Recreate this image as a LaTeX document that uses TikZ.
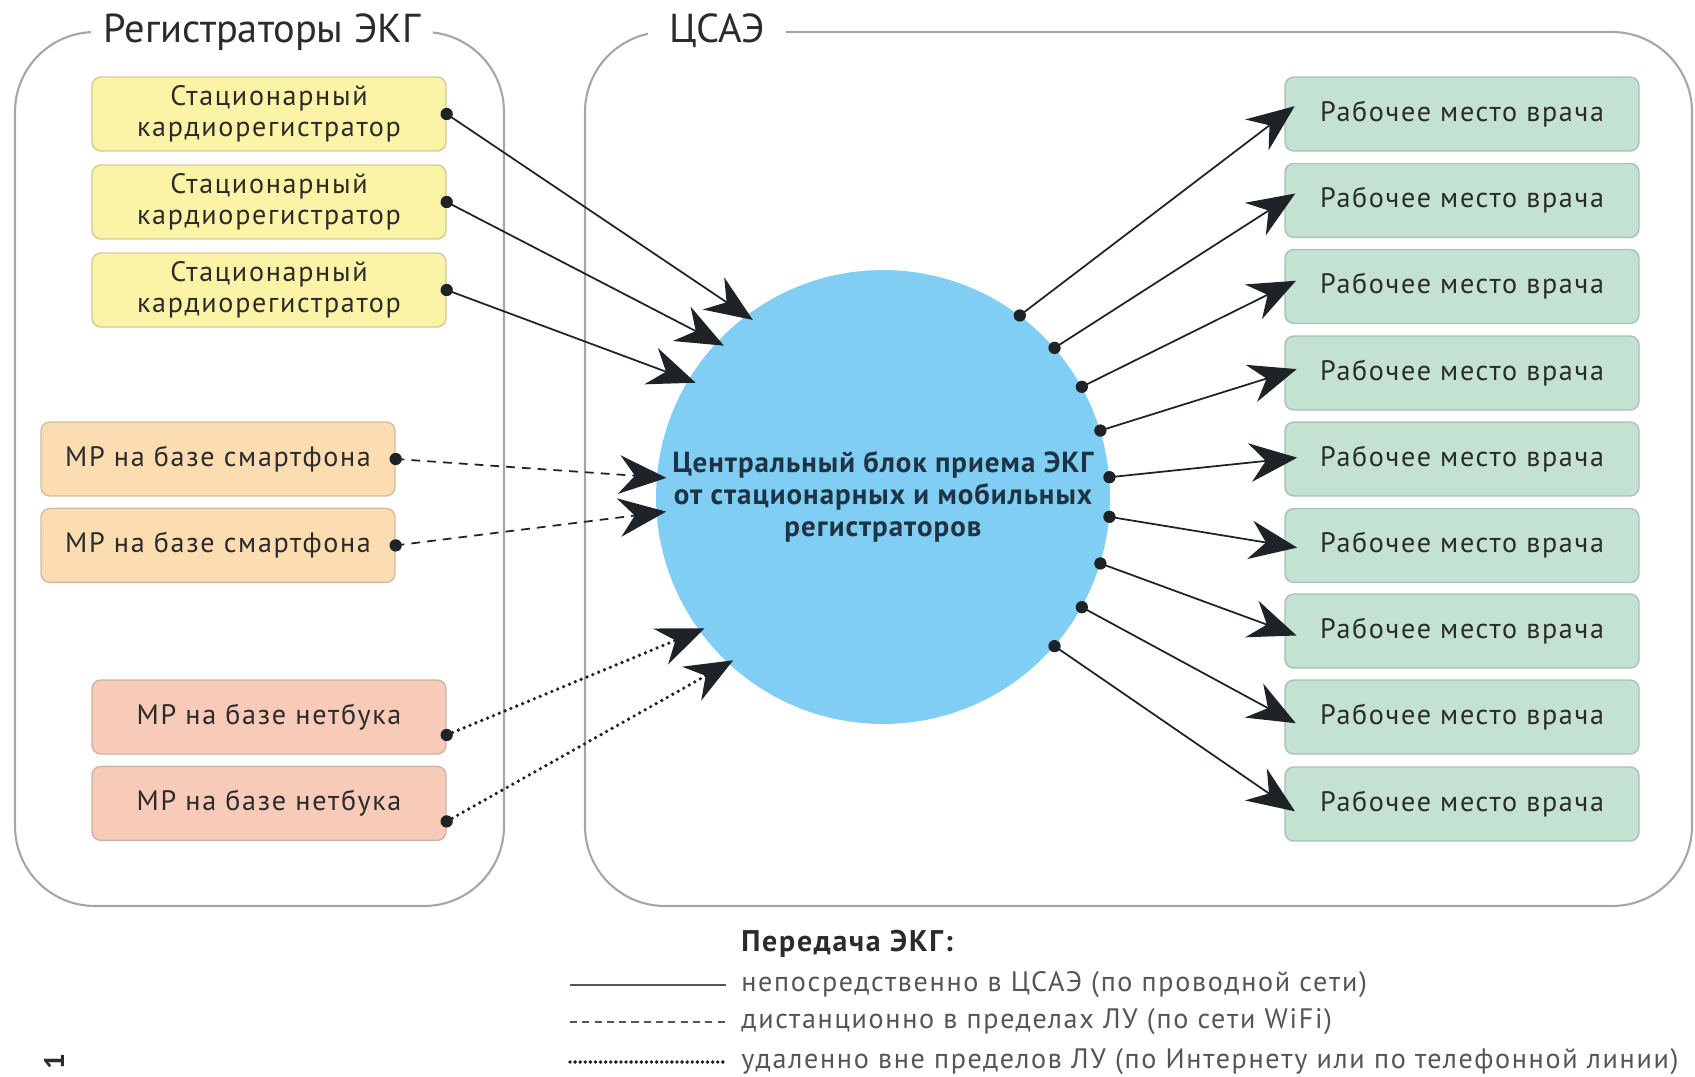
\documentclass[tikz,border=0pt]{standalone}
\usepackage{fontspec}
\setmainfont{PT Sans}
\newfontfamily\boxfont[LetterSpace=6]{PT Sans}
\newfontfamily\hubfont[LetterSpace=3.5]{PT Sans}
\usepackage{tikz}
\usetikzlibrary{positioning,calc,arrows.meta}

\definecolor{framegray}{HTML}{A6A6A6}
\definecolor{textdark}{HTML}{2B2B2B}
\definecolor{legendgray}{HTML}{555555}
\definecolor{arrowdark}{HTML}{1D2327}
\definecolor{hubblue}{HTML}{80CEF3}
\definecolor{hubtext}{HTML}{1E3444}
\definecolor{statyellow}{HTML}{FBF4A7}
\definecolor{phoneorange}{HTML}{FCDDB1}
\definecolor{netpink}{HTML}{F8CBB9}
\definecolor{docgreen}{HTML}{C3E2D1}

\begin{document}
\begin{tikzpicture}[x=0.02cm, y=-0.02cm,
    frame/.style={draw=framegray, line width=1.2pt, rounded corners=1.6cm},
    frametitle/.style={fill=white, inner xsep=7pt, text=textdark, font=\fontsize{23}{26}\selectfont},
    devbox/.style={draw=#1!65!gray, fill=#1, rounded corners=5pt, line width=0.8pt,
        minimum width=7.08cm, minimum height=1.48cm, align=center, text=textdark,
        font=\boxfont\fontsize{16}{17.5}\selectfont},
    dotend/.style={circle, fill=arrowdark, inner sep=0pt, minimum size=7pt},
    link/.style={draw=arrowdark, line width=1pt, -{Stealth[length=27pt, width=22pt, inset=9pt]}},
    wired/.style={link},
    wifi/.style={link, dash pattern=on 5pt off 4pt},
    remote/.style={link, line width=2.1pt, dash pattern=on 0pt off 3.6pt, line cap=round},
    legtext/.style={anchor=west, text=legendgray, inner xsep=0pt, font=\boxfont\fontsize{16}{18}\selectfont}
]
    \useasboundingbox (0,0) rectangle (1695,1076);

    % Frames
    \draw[frame] (15,32) rectangle (504,906);
    \draw[frame] (585,32) rectangle (1692,906);
    \node[frametitle] (regtitle) at (262,32) {Регистраторы ЭКГ};
    \node[frametitle, inner xsep=12pt] (csaetitle) at (717,31) {ЦСАЭ};

    % Registrators
    \node[devbox=statyellow] (st1) at (269,114) {Стационарный\\кардиорегистратор};
    \node[devbox=statyellow] (st2) at (269,202) {Стационарный\\кардиорегистратор};
    \node[devbox=statyellow] (st3) at (269,290) {Стационарный\\кардиорегистратор};
    \node[devbox=phoneorange] (sm1) at (218,459) {МР на базе смартфона};
    \node[devbox=phoneorange, below=0.22cm of sm1] (sm2) {МР на базе смартфона};
    \node[devbox=netpink] (nb1) at (269,717) {МР на базе нетбука};
    \node[devbox=netpink, below=0.22cm of nb1] (nb2) {МР на базе нетбука};

    % Central block
    \node[circle, fill=hubblue, minimum size=9.08cm, inner sep=0pt, align=center, text=hubtext,
        font=\hubfont\bfseries\fontsize{16.5}{18.3}\selectfont] (hub) at (883,497)
        {Центральный блок приема ЭКГ\\от стационарных и мобильных\\регистраторов};

    % Workstations
    \node[devbox=docgreen] (doc1) at (1462,114) {Рабочее место врача};
    \node[devbox=docgreen] (doc2) at (1462,200.5) {Рабочее место врача};
    \node[devbox=docgreen] (doc3) at (1462,286.5) {Рабочее место врача};
    \node[devbox=docgreen] (doc4) at (1462,373) {Рабочее место врача};
    \node[devbox=docgreen] (doc5) at (1462,459) {Рабочее место врача};
    \node[devbox=docgreen] (doc6) at (1462,545.5) {Рабочее место врача};
    \node[devbox=docgreen] (doc7) at (1462,631) {Рабочее место врача};
    \node[devbox=docgreen] (doc8) at (1462,717) {Рабочее место врача};
    \node[devbox=docgreen] (doc9) at (1462,804) {Рабочее место врача};

    % Incoming links
    \node[dotend] (st1d) at (st1.east) {};
    \node[dotend] (st2d) at (st2.east) {};
    \node[dotend] (st3d) at (st3.east) {};
    \node[dotend] (sm1d) at (sm1.east) {};
    \node[dotend] (sm2d) at (sm2.east) {};
    \node[dotend] (nb1d) at ([yshift=-0.36cm]nb1.east) {};
    \node[dotend] (nb2d) at ([yshift=-0.36cm]nb2.east) {};
    \draw[wired, shorten >=-0.16cm] (st1d.center) -- (hub.127);
    \draw[wired, shorten >=-0.16cm] (st2d.center) -- (hub.137);
    \draw[wired, shorten >=-0.16cm] (st3d.center) -- (hub.149);
    \draw[wifi, shorten >=-0.2cm] (sm1d.center) -- (hub.175.5);
    \draw[wifi, shorten >=-0.2cm] (sm2d.center) -- (hub.184);
    \draw[remote, shorten >=-0.12cm] (nb1d.center) -- (hub.216);
    \draw[remote, shorten >=-0.12cm] (nb2d.center) -- (hub.227);

    % Outgoing links
    \node[dotend] (out1) at (hub.53) {};
    \node[dotend] (out2) at (hub.41) {};
    \node[dotend] (out3) at (hub.29.6) {};
    \node[dotend] (out4) at (hub.17.7) {};
    \node[dotend] (out5) at (hub.5.4) {};
    \node[dotend] (out6) at (hub.-5.4) {};
    \node[dotend] (out7) at (hub.-17.7) {};
    \node[dotend] (out8) at (hub.-29.6) {};
    \node[dotend] (out9) at (hub.-41) {};
    \draw[wired, shorten >=-0.26cm] (out1.center) -- (doc1.west);
    \draw[wired, shorten >=-0.26cm] (out2.center) -- (doc2.west);
    \draw[wired, shorten >=-0.26cm] (out3.center) -- (doc3.west);
    \draw[wired, shorten >=-0.26cm] (out4.center) -- (doc4.west);
    \draw[wired, shorten >=-0.26cm] (out5.center) -- (doc5.west);
    \draw[wired, shorten >=-0.26cm] (out6.center) -- (doc6.west);
    \draw[wired, shorten >=-0.26cm] (out7.center) -- (doc7.west);
    \draw[wired, shorten >=-0.26cm] (out8.center) -- (doc8.west);
    \draw[wired, shorten >=-0.26cm] (out9.center) -- (doc9.west);

    % Legend
    \node[legtext, text=textdark, font=\boxfont\bfseries\fontsize{17}{18}\selectfont] (legtitle) at (741,944) {Передача ЭКГ:};
    \node[legtext] (leg1) at (741,985) {непосредственно в ЦСАЭ (по проводной сети)};
    \node[legtext] (leg2) at (741,1022) {дистанционно в пределах ЛУ (по сети WiFi)};
    \node[legtext] (leg3) at (741,1062) {удаленно вне пределов ЛУ (по Интернету или по телефонной линии)};
    \coordinate (leg1s) at (570,985);
    \coordinate (leg2s) at (570,1022);
    \coordinate (leg3s) at (570,1062);
    \draw[draw=legendgray, line width=1.3pt, shorten >=0.3cm] (leg1s) -- (leg1.west);
    \draw[draw=legendgray, line width=1pt, dash pattern=on 4pt off 3pt, shorten >=0.3cm] (leg2s) -- (leg2.west);
    \draw[draw=arrowdark, line width=2.2pt, dash pattern=on 0pt off 2.9pt, line cap=round, shorten >=0.3cm] (leg3s) -- (leg3.west);

    % Page number
    \node[rotate=90, text=textdark, font=\bfseries\fontsize{16}{16}\selectfont] (pagenum) at (54,1062) {1};
\end{tikzpicture}
\end{document}
